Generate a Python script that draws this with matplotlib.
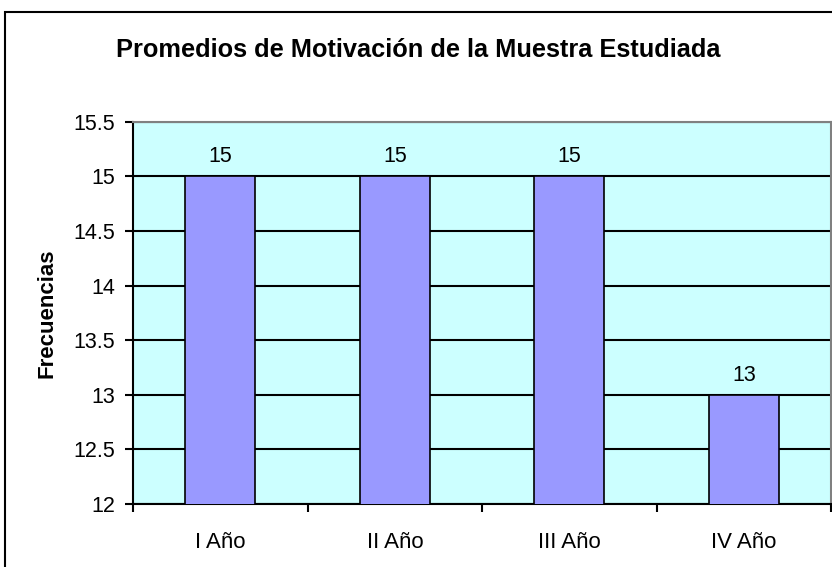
import matplotlib.pyplot as plt
import numpy as np
from matplotlib.patches import Rectangle

plt.rcParams['font.family'] = ['Liberation Sans', 'DejaVu Sans']

categorias = ["I Año", "II Año", "III Año", "IV Año"]
promedios = [15, 15, 15, 13]
yticks = [12, 12.5, 13, 13.5, 14, 14.5, 15, 15.5]

fig = plt.figure(figsize=(8.32, 5.67), dpi=100)
ax = fig.add_axes([0.16, 0.111, 0.839, 0.674])

# marco exterior del grafico
fig.patches.append(Rectangle((5/832, -0.2), 1.2, 0.2 + 1 - 12/567, transform=fig.transFigure,
                             fill=False, edgecolor='black', linewidth=1.5, zorder=0))

x = np.arange(len(categorias))
ax.set_facecolor('#ccffff')
ax.bar(x, promedios, width=0.4, bottom=0, color='#9999ff', edgecolor='black', linewidth=1.2, zorder=3)
for xi, v in zip(x, promedios):
    ax.text(xi, v + 0.18, str(v), ha='center', va='center', fontsize=15.5)

ax.set_xlim(-0.5, len(categorias) - 0.5)
ax.set_ylim(12, 15.5)
ax.set_yticks(yticks)
ax.set_yticklabels([f"{t:g}" for t in yticks], fontsize=15.5)
ax.yaxis.grid(True, color='black', linewidth=1.5, zorder=1)
ax.set_axisbelow(True)

ax.set_xticks(x)
ax.set_xticklabels(categorias, fontsize=16)
ax.tick_params(axis='x', which='major', length=0, pad=20)
ax.set_xticks(np.arange(-0.5, len(categorias)), minor=True)
ax.tick_params(axis='x', which='minor', length=6, width=1.5, direction='out')
ax.tick_params(axis='y', length=6, width=1.5, direction='out', pad=7)

for s in ['left', 'bottom']:
    ax.spines[s].set_color('black')
    ax.spines[s].set_linewidth(1.5)
for s in ['top', 'right']:
    ax.spines[s].set_color('#808080')
    ax.spines[s].set_linewidth(1.5)

ax.set_ylabel("Frecuencias", fontsize=16, fontweight='bold')
ax.yaxis.set_label_coords(-0.108, 0.5)
fig.text(0.503, 0.912, "Promedios de Motivación de la Muestra Estudiada",
         ha='center', va='center', fontsize=18.3, fontweight='bold')

fig.savefig("out.png", dpi=100)
